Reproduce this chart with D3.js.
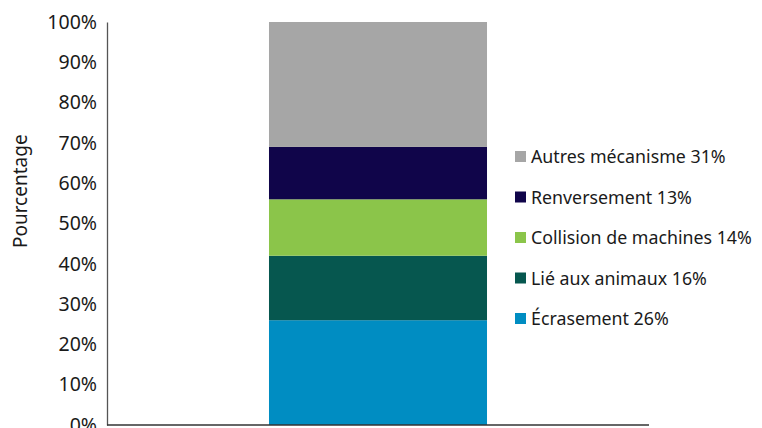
<!DOCTYPE html>
<html>
<head>
<meta charset="utf-8">
<script src="https://cdn.jsdelivr.net/npm/d3@7"></script>
<style>
  body { margin: 0; background: #fff; }
  text { font-family: "Source Sans Pro", "Noto Sans", sans-serif; fill: #1a1a1a; }
</style>
</head>
<body>
<script>
(function() {
  'use strict';

  var width = 762, height = 428,
      margin = {left: 107, right: 113, top: 22, bottom: 3};

  // data, bottom to top
  var categories = ["Écrasement", "Lié aux animaux", "Collision de machines", "Renversement", "Autres mécanisme"];
  var values = [26, 16, 14, 13, 31];
  var colors = ["#008dc2", "#06574f", "#8bc54a", "#10054a", "#a6a6a6"];
  var yTicks = [0, 10, 20, 30, 40, 50, 60, 70, 80, 90, 100];

  var svg = d3.select("body").append("svg")
      .attr("width", width)
      .attr("height", height);

  var y = d3.scaleLinear().domain([0, 100]).range([height - margin.bottom, margin.top]);
  var x = d3.scaleBand().domain(["bar"]).range([margin.left, width - margin.right])
      .paddingInner(0).paddingOuter(0.743);

  var stacked = [], acc = 0;
  values.forEach(function(v, i) {
    stacked.push({cat: categories[i], v: v, y0: acc, y1: acc + v, color: colors[i]});
    acc += v;
  });

  svg.selectAll("rect.seg").data(stacked).enter()
    .append("rect")
    .attr("class", "seg")
    .attr("x", x("bar"))
    .attr("width", x.bandwidth())
    .attr("y", function(d) { return y(d.y1); })
    .attr("height", function(d) { return y(d.y0) - y(d.y1); })
    .attr("fill", function(d) { return d.color; });

  // y axis
  var yAxis = svg.append("g")
    .attr("transform", "translate(" + margin.left + ",0)")
    .call(d3.axisLeft(y).tickValues(yTicks).tickSize(0).tickPadding(10)
      .tickFormat(function(d) { return d + "%"; }));
  yAxis.select(".domain").attr("stroke", "#555").attr("stroke-width", 1.3);
  yAxis.selectAll("text").attr("font-size", 19.5).attr("fill", "#1a1a1a")
    .style("font-family", "'Source Sans Pro','Noto Sans',sans-serif");

  // x axis line
  svg.append("line")
    .attr("x1", margin.left).attr("x2", width - margin.right)
    .attr("y1", y(0)).attr("y2", y(0))
    .attr("stroke", "#333").attr("stroke-width", 1.3);

  svg.append("text")
    .attr("transform", "translate(27," + y(58) + ") rotate(-90)")
    .attr("text-anchor", "middle")
    .attr("font-size", 19)
    .text("Pourcentage");

  // legend, top to bottom
  var legend = svg.append("g").attr("transform", "translate(515,0)");
  var items = stacked.slice().reverse();
  var rows = legend.selectAll("g").data(items).enter().append("g")
    .attr("transform", function(d, i) { return "translate(0," + (157 + i * 40.5) + ")"; });
  rows.append("rect")
    .attr("x", 0).attr("y", -6).attr("width", 11).attr("height", 11)
    .attr("fill", function(d) { return d.color; });
  rows.append("text")
    .attr("x", 16).attr("y", 0).attr("dy", "0.35em")
    .attr("font-size", 17.8)
    .text(function(d) { return d.cat + " " + d.v + "%"; });
})();
</script>
</body>
</html>
